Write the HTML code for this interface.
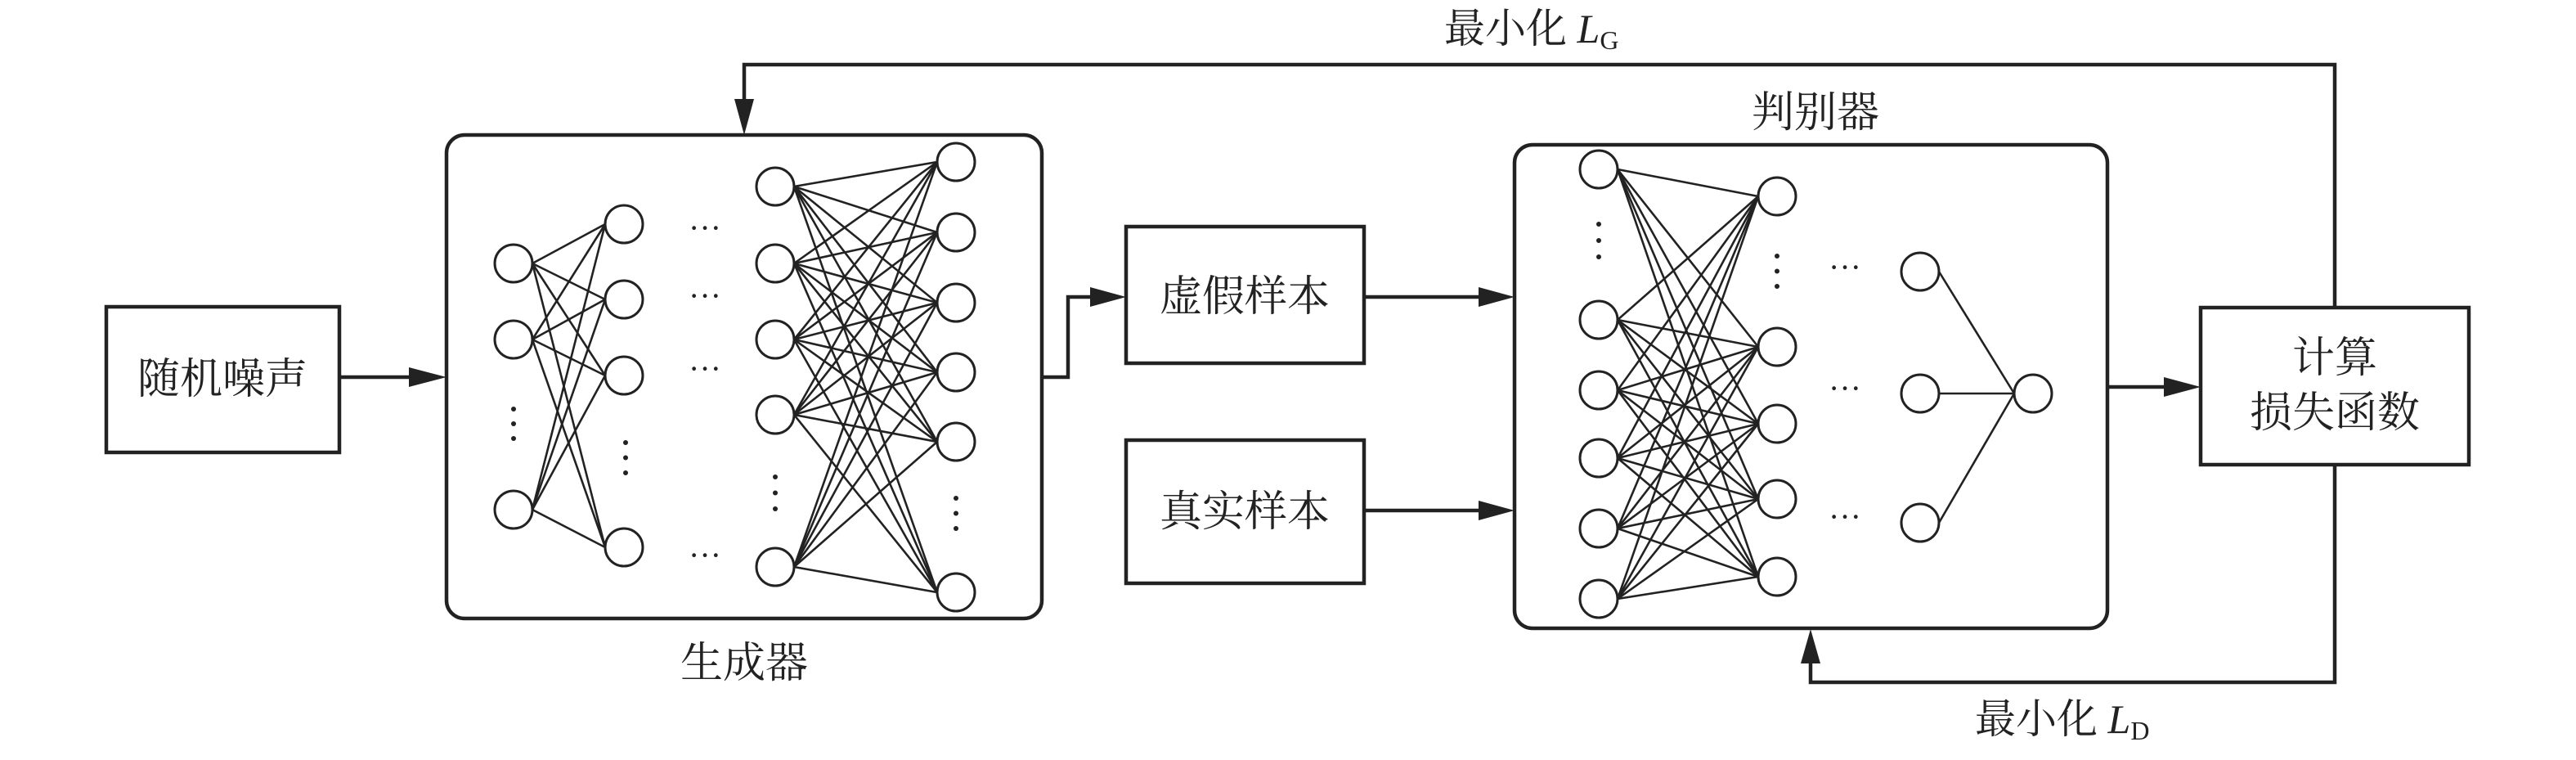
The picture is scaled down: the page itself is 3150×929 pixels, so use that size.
<!DOCTYPE html>
<html><head><meta charset="utf-8"><style>
html,body{margin:0;padding:0;background:#fff;}
svg{display:block;}
text{font-family:"Liberation Serif","Noto Serif CJK SC",serif;fill:#222;}
</style></head><body>
<svg id="s" width="3150" height="929" viewBox="0 0 3150 929" xmlns="http://www.w3.org/2000/svg">
<defs>
<marker id="ah" markerWidth="10" markerHeight="8" refX="10" refY="4" orient="auto" markerUnits="userSpaceOnUse" viewBox="0 0 10 8" >
</marker>
</defs>
<g stroke="#222" stroke-width="4.5" fill="none">
<!-- boxes -->
<rect x="130" y="375" width="285" height="178"/>
<rect x="546" y="165" width="728" height="591" rx="22"/>
<rect x="1377" y="277" width="291" height="167"/>
<rect x="1377" y="538" width="291" height="175"/>
<rect x="1852" y="177" width="725" height="591" rx="22"/>
<rect x="2691" y="376" width="328" height="192"/>
<!-- connectors -->
<line x1="415" y1="461" x2="505" y2="461"/>
<polyline points="1274,461 1306,461 1306,363 1335,363"/>
<line x1="1668" y1="363" x2="1810" y2="363"/>
<line x1="1668" y1="624" x2="1810" y2="624"/>
<line x1="2577" y1="473" x2="2650" y2="473"/>
<polyline points="2855,376 2855,79 910,79 910,125"/>
<polyline points="2855,568 2855,834 2214,834 2214,808"/>
</g>
<g fill="#222">
<polygon points="546,461 500,449 500,473"/>
<polygon points="1377,363 1333,351 1333,375"/>
<polygon points="1852,363 1808,351 1808,375"/>
<polygon points="1852,624 1808,612 1808,636"/>
<polygon points="2691,473 2646,461 2646,485"/>
<polygon points="910,165 898,121 922,121"/>
<polygon points="2214,769 2202,811 2226,811"/>
</g>
<g id="net" stroke="#222" stroke-width="3" fill="#fff"></g>
<g font-size="52" text-anchor="middle">
<text x="272" y="481">随机噪声</text>
<text x="1522" y="380">虚假样本</text>
<text x="1522" y="643">真实样本</text>
<text x="910" y="828">生成器</text>
<text x="2220" y="155">判别器</text>
<text x="2855" y="455">计算</text>
<text x="2855" y="522">损失函数</text>
</g>
<text x="1766" y="52" font-size="50">最小化 <tspan font-style="italic">L</tspan><tspan font-size="32" dy="8">G</tspan></text>
<text x="2415" y="896" font-size="50">最小化 <tspan font-style="italic">L</tspan><tspan font-size="32" dy="8">D</tspan></text>
<g font-size="40" text-anchor="middle" fill="#222">
<text x="862" y="292">···</text><text x="862" y="375">···</text><text x="862" y="464">···</text><text x="862" y="692">···</text>
<text x="2256" y="340">···</text><text x="2256" y="488">···</text><text x="2256" y="645">···</text>
</g>
<g fill="#222" id="dots"></g>
</svg>
<script>
var net=document.getElementById('net'),dots=document.getElementById('dots');
var NS='http://www.w3.org/2000/svg',r=23;
function el(n,a,p){var e=document.createElementNS(NS,n);for(var k in a)e.setAttribute(k,a[k]);(p||net).appendChild(e);return e;}
function bip(x1,ys1,x2,ys2){ys1.forEach(function(a){ys2.forEach(function(b){el('line',{x1:x1+r,y1:a,x2:x2-r,y2:b,'stroke-width':2.6});});});}
function col(x,ys){ys.forEach(function(y){el('circle',{cx:x,cy:y,r:r});});}
function vd(x,y0,y1){for(var i=0;i<3;i++)el('circle',{cx:x,cy:y0+(y1-y0)*i/2,r:3},dots);}
var g1=[322,415,623],g2=[274,366,459,669],g3=[228,322,415,507,693],g4=[198,284,370,455,540,724];
bip(628,g1,763,g2);bip(948,g3,1169,g4);
col(628,g1);col(763,g2);col(948,g3);col(1169,g4);
vd(628,500,536);vd(765,541,578);vd(948,583,622);vd(1169,609,646);
var d1=[207,391,477,560,646,732],d2=[240,424,518,610,705],d3=[332,481,639];
bip(1955,d1,2173,d2);
d3.forEach(function(y){el('line',{x1:2348+r,y1:y,x2:2486-r,y2:481,'stroke-width':2.6});});
col(1955,d1);col(2173,d2);col(2348,d3);col(2486,[481]);
vd(1955,274,314);vd(2173,313,350);
</script>
</body></html>
